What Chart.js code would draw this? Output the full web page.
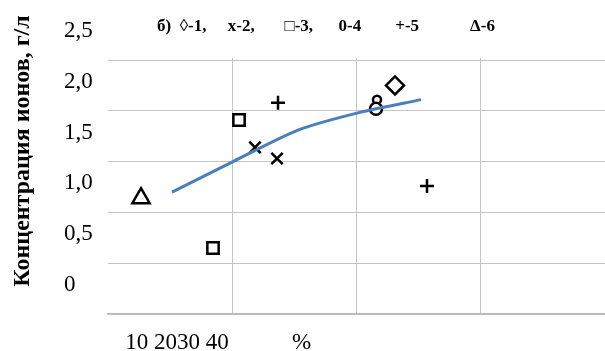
<!DOCTYPE html>
<html>
<head>
<meta charset="utf-8">
<script src="https://cdn.jsdelivr.net/npm/chart.js@4.4.0/dist/chart.umd.min.js"></script>
<style>
  body { margin: 0; background: #fff; }
  #wrap { width: 605px; height: 351px; }
</style>
</head>
<body>
<div id="wrap"><canvas id="ionChart" width="605" height="351"></canvas></div>
<script>
// подписи
const captionText = 'б)  ◊-1,     x-2,       □-3,      0-4        +-5            Δ-6';
const yTitleText = 'Концентрация ионов, г/л';
const xTitleText = '   10 2030 40           %';
const yTickLabels = ['0', '0,5', '1,0', '1,5', '2,0', '2,5'];

// точки по сериям (x — условная шкала, y — г/л)
const series1 = [{ x: 57.4, y: 2.25 }];
const series2 = [{ x: 29.4, y: 1.64 }, { x: 33.8, y: 1.53 }];
const series3 = [{ x: 21.0, y: 0.65 }, { x: 26.2, y: 1.91 }];
const series4 = [{ x: 53.8, y: 2.11 }, { x: 53.6, y: 2.02 }];
const series5 = [{ x: 34.0, y: 2.08 }, { x: 63.8, y: 1.26 }];
const series6 = [{ x: 6.6, y: 1.14 }];
// линия тренда
const trendLine = [
  { x: 12.8, y: 1.20 },
  { x: 25.0, y: 1.50 },
  { x: 38.0, y: 1.81 },
  { x: 50.0, y: 1.98 },
  { x: 62.6, y: 2.11 },
];

const xMax = 99.4;
const yMax = 2.52; // чуть выше 2,5, чтобы верхняя линия сетки была внутри области
const gridColor = '#c4c4c4';
const serif = '"Liberation Serif", "Times New Roman", serif';

function markers(data, style, radius) {
  return {
    type: 'scatter',
    data: data,
    pointStyle: style,
    pointRadius: radius,
    pointBorderColor: '#000',
    pointBackgroundColor: '#fff',
    pointBorderWidth: 2.5,
  };
}

// текст вне осей: подпись серий и заголовок оси Y
const captionPlugin = {
  id: 'captions',
  afterDraw(chart) {
    const ctx = chart.ctx;
    ctx.save();
    ctx.fillStyle = '#000';
    ctx.textBaseline = 'middle';
    ctx.font = 'bold 17px ' + serif;
    ctx.fillText(captionText, 157, 27);
    ctx.translate(23, 151);
    ctx.rotate(-Math.PI / 2);
    ctx.textAlign = 'center';
    ctx.font = 'bold 24px ' + serif;
    ctx.fillText(yTitleText, 0, 0);
    ctx.restore();
  },
};

const ctx = document.getElementById('ionChart').getContext('2d');

new Chart(ctx, {
  data: {
    datasets: [
      {
        type: 'line',
        data: trendLine,
        borderColor: '#4a7ebf',
        borderWidth: 3,
        pointRadius: 0,
        tension: 0.25,
        fill: false,
      },
      markers(series1, 'rectRot', 9),
      markers(series2, 'crossRot', 8),
      markers(series3, 'rect', 8),
      markers(series4, 'circle', [4, 6]),
      markers(series5, 'cross', 7),
      markers(series6, 'triangle', 10),
    ],
  },
  options: {
    responsive: false,
    animation: false,
    layout: {
      autoPadding: false,
      padding: { left: 64, right: 0, top: 58, bottom: 0 },
    },
    plugins: {
      legend: { display: false },
      tooltip: { enabled: false },
    },
    scales: {
      x: {
        type: 'linear',
        bounds: 'data',
        min: 0,
        max: xMax,
        ticks: {
          display: false,
          stepSize: 25,
          includeBounds: false,
        },
        grid: {
          drawTicks: false,
          color: (c) => (c.tick && c.tick.value > 0 && c.tick.value < xMax ? gridColor : 'rgba(0,0,0,0)'),
        },
        border: { display: true, color: '#b8b8b8', width: 1.5 },
        title: {
          display: true,
          text: xTitleText,
          align: 'start',
          color: '#000',
          font: { family: serif, size: 23, lineHeight: 1 },
          padding: { top: 0, bottom: -3 },
        },
        afterFit: (scale) => {
          scale.height = 37;
        },
      },
      y: {
        bounds: 'data',
        min: 0,
        max: yMax,
        ticks: {
          stepSize: 0.5,
          includeBounds: false,
          crossAlign: 'far',
          labelOffset: -29,
          color: '#000',
          font: { family: serif, size: 23 },
          callback: (value, index) => yTickLabels[index],
        },
        grid: {
          drawTicks: false,
          color: gridColor,
        },
        border: { display: false },
        afterFit: (scale) => {
          scale.width = 44;
        },
      },
    },
  },
  plugins: [captionPlugin],
});
</script>
</body>
</html>
